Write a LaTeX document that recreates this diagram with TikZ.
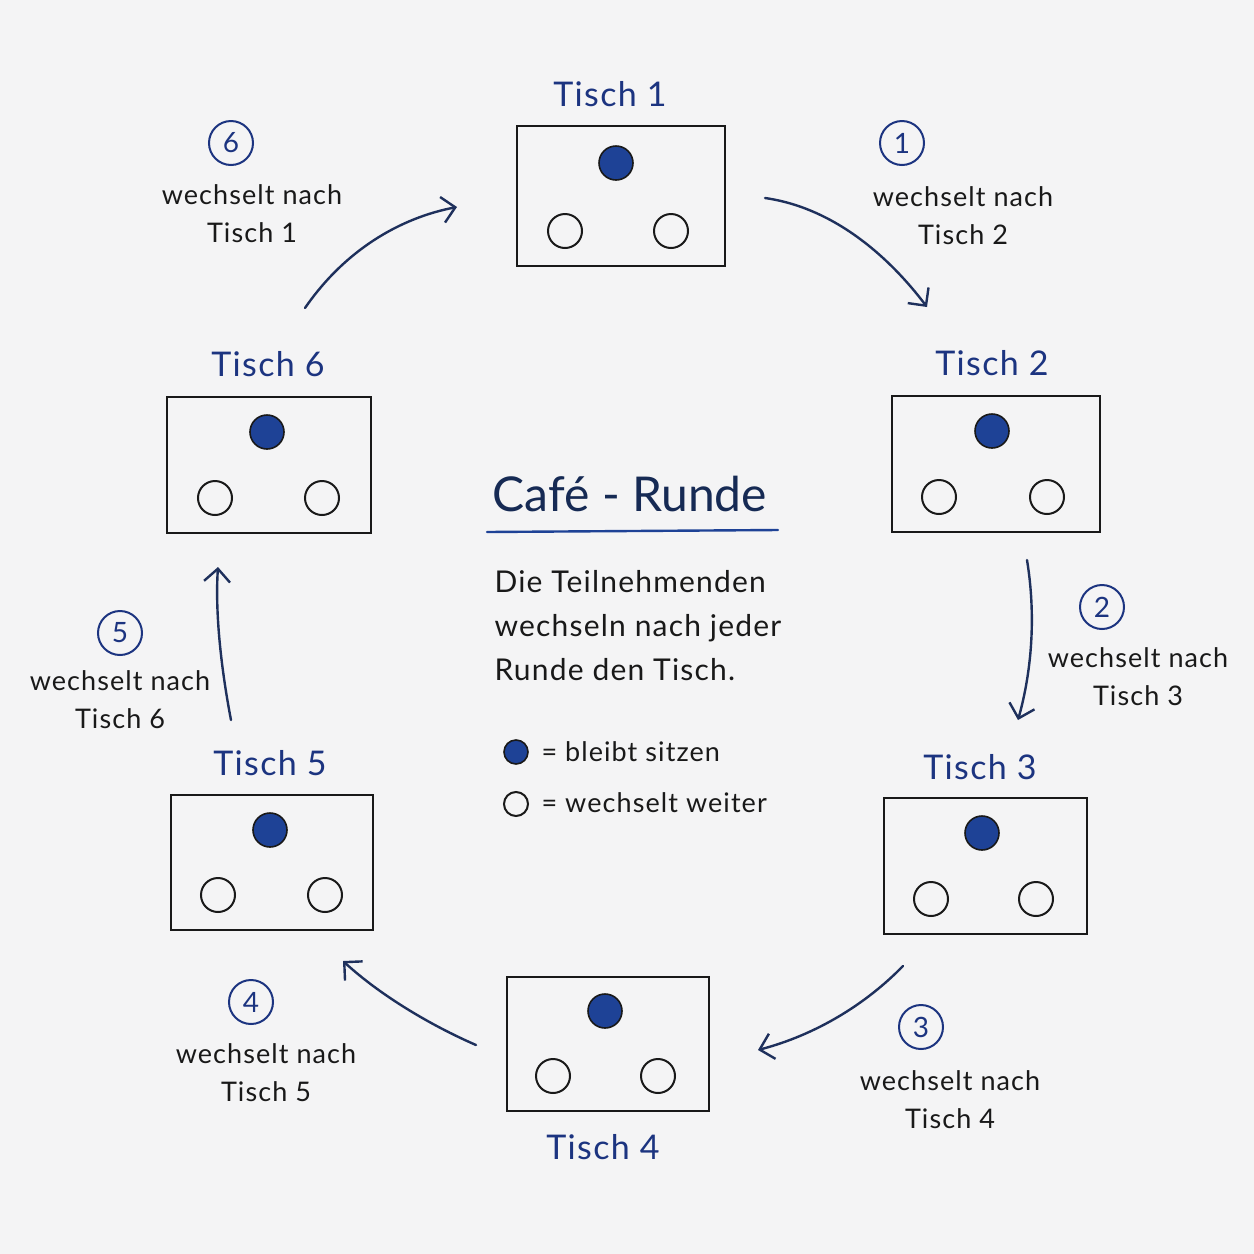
\documentclass[tikz,border=0pt]{standalone}
\usepackage{fontspec}
\setmainfont{Lato}
\usetikzlibrary{arrows.meta}
\definecolor{bg}{RGB}{244,244,245}
\definecolor{navy}{RGB}{28,52,128}
\definecolor{arrowc}{RGB}{30,48,92}
\definecolor{titlec}{RGB}{22,42,84}
\definecolor{dotc}{RGB}{30,66,150}
\definecolor{ink}{RGB}{25,25,25}
\newfontfamily\spaced[LetterSpace=4]{Lato}
\tikzset{
  seat/.style={circle, draw=ink, line width=2pt, minimum size=34pt, inner sep=0pt},
  stay/.style={circle, draw=ink, line width=1.6pt, minimum size=34pt, inner sep=0pt, fill=dotc},
  tlabel/.style={text=navy, font=\spaced\fontsize{34}{38}\selectfont},
  note/.style={text=ink, font=\spaced\fontsize{27}{38}\selectfont, align=center},
  num/.style={circle, draw=navy, line width=2pt, minimum size=44pt, inner sep=0pt, text=navy, font=\fontsize{28}{30}\selectfont},
  flow/.style={draw=arrowc, line width=2.4pt, line cap=round, -{Straight Barb[length=13pt, width=26pt, line width=2.4pt]}},
}
\newcommand{\tisch}[9]{%
  \draw[draw=ink, line width=2.4pt] (#2,#3) rectangle (#4,#5);
  \coordinate (#1) at ({(#2+#4)/2},{(#3+#5)/2});
  \node[stay] (#1d) at (#6,#7) {};
  \node[seat] (#1l) at (#8,{#5-35}) {};
  \node[seat] (#1r) at (#9,{#5-35}) {};
}
\begin{document}
\begin{tikzpicture}[x=1pt,y=-1pt]
\fill[bg] (0,0) rectangle (1254,1254);
\useasboundingbox (0,0) rectangle (1254,1254);

% tables
\tisch{t1}{517}{126}{725}{266}{616}{163}{565}{671}
\tisch{t2}{892}{396}{1100}{532}{992}{431}{939}{1047}
\tisch{t3}{884}{798}{1087}{934}{982}{833}{931}{1036}
\tisch{t4}{507}{977}{709}{1111}{605}{1011}{553}{658}
\tisch{t5}{171}{795}{373}{930}{270}{830}{218}{325}
\tisch{t6}{167}{397}{371}{533}{267}{432}{215}{322}

% table labels
\node[tlabel] (l1) at (610,94) {Tisch 1};
\node[tlabel] (l2) at (992,363) {Tisch 2};
\node[tlabel] (l3) at (980,767) {Tisch 3};
\node[tlabel] (l4) at (603,1147) {Tisch 4};
\node[tlabel] (l5) at (270,763) {Tisch 5};
\node[tlabel] (l6) at (268,364) {Tisch 6};

% arrows
\coordinate (a1s) at (765,198); \coordinate (a1e) at (927,307);
\coordinate (a2s) at (1027,560); \coordinate (a2e) at (1018,720);
\coordinate (a3s) at (903,966); \coordinate (a3e) at (758,1050);
\coordinate (a4s) at (476,1045); \coordinate (a4e) at (343,961);
\coordinate (a5s) at (231,720); \coordinate (a5e) at (218,567);
\coordinate (a6s) at (305,308); \coordinate (a6e) at (457,207);
\draw[flow] (a1s) .. controls (835,208) and (890,258) .. (a1e);
\draw[flow] (a2s) .. controls (1036,615) and (1032,670) .. (a2e);
\draw[flow] (a3s) .. controls (865,1005) and (815,1035) .. (a3e);
\draw[flow] (a4s) .. controls (430,1025) and (380,995) .. (a4e);
\draw[flow] (a5s) .. controls (221,668) and (215,612) .. (a5e);
\draw[flow] (a6s) .. controls (345,250) and (400,218) .. (a6e);

% step annotations
\node[num] (n1) at (902,143) {1};
\node[note] (w1) at (963,216) {wechselt nach\\Tisch 2};
\node[num] (n2) at (1102,607) {2};
\node[note] (w2) at (1138,677) {wechselt nach\\Tisch 3};
\node[num] (n3) at (921,1027) {3};
\node[note] (w3) at (950,1100) {wechselt nach\\Tisch 4};
\node[num] (n4) at (251,1002) {4};
\node[note] (w4) at (266,1073) {wechselt nach\\Tisch 5};
\node[num] (n5) at (120,633) {5};
\node[note] (w5) at (120,700) {wechselt nach\\Tisch 6};
\node[num] (n6) at (231,143) {6};
\node[note] (w6) at (252,214) {wechselt nach\\Tisch 1};

% title and description
\node[text=titlec, font=\fontsize{48}{52}\selectfont] (title) at (630,494) {Café - Runde};
\coordinate (ul1) at (487,532); \coordinate (ul2) at (778,530);
\draw[draw=dotc, line width=2.4pt, line cap=round] (ul1) -- (ul2);
\node[anchor=west, text=ink, font=\spaced\fontsize{30}{44}\selectfont, align=left] (desc) at (491,626)
  {Die Teilnehmenden\\wechseln nach jeder\\Runde den Tisch.};

% legend
\node[circle, draw=ink, line width=1.6pt, fill=dotc, minimum size=24pt, inner sep=0pt] (lg1) at (516,752) {};
\node[anchor=west, text=ink, font=\spaced\fontsize{27}{30}\selectfont] (lt1) at (538,752) {= bleibt sitzen};
\node[circle, draw=ink, line width=2pt, minimum size=24pt, inner sep=0pt] (lg2) at (516,804) {};
\node[anchor=west, text=ink, font=\spaced\fontsize{27}{30}\selectfont] (lt2) at (538,803) {= wechselt weiter};
\end{tikzpicture}
\end{document}
